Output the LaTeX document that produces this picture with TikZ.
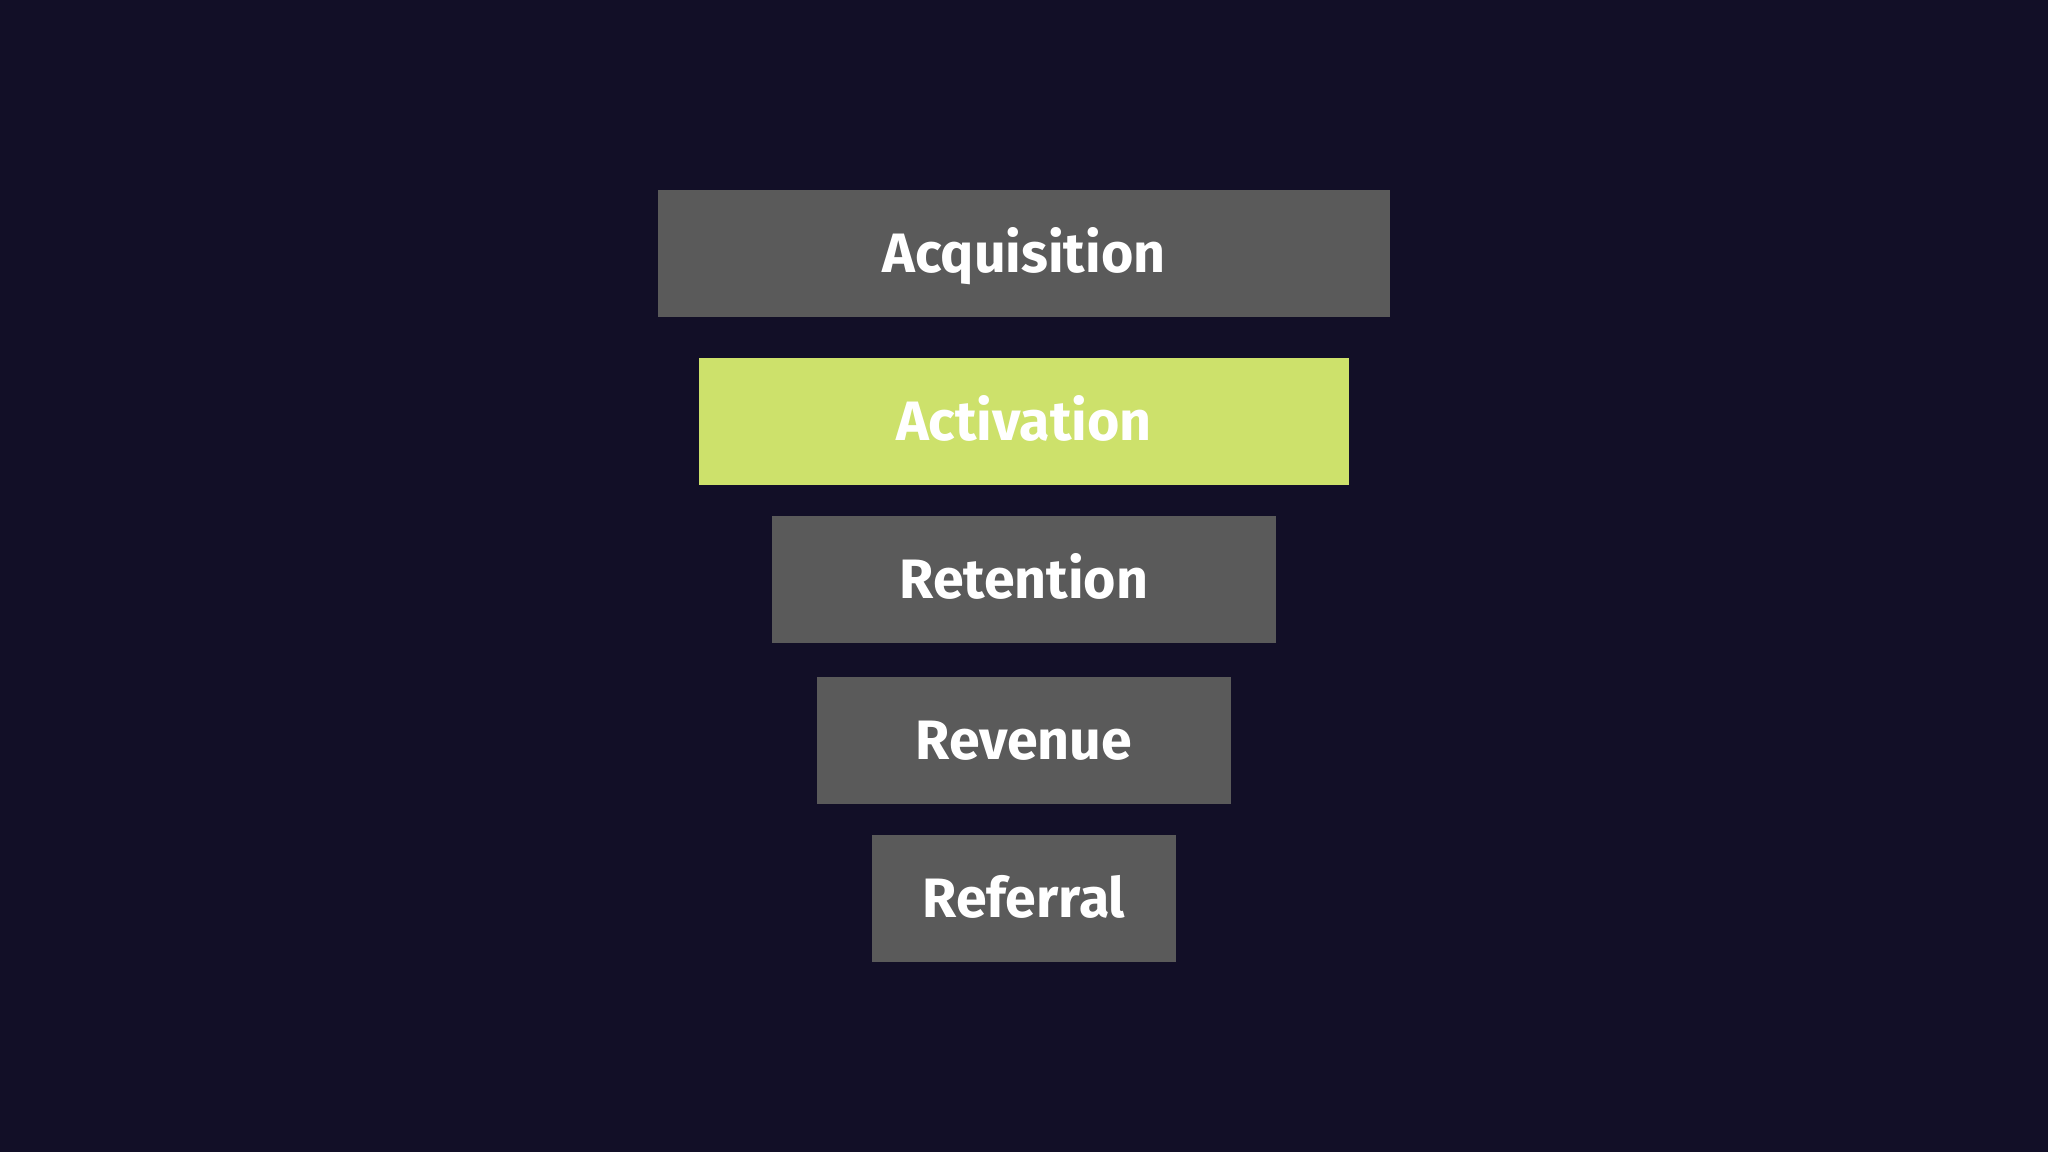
\documentclass[tikz,border=0pt]{standalone}
\usepackage{fontspec}
\setmainfont{Fira Sans}
\definecolor{bg}{HTML}{120F27}
\definecolor{boxgray}{HTML}{5A5A5A}
\definecolor{boxgreen}{HTML}{CDE16B}
\begin{document}
\begin{tikzpicture}[x=1pt,y=-1pt,
  stage/.style={fill=boxgray, draw=none, inner sep=0pt, minimum height=127pt,
    text=white, font=\fontsize{55.5}{60}\selectfont\bfseries, text height=38pt, text depth=0pt},
  hilite/.style={stage, fill=boxgreen}]
\fill[bg] (0,0) rectangle (2048,1152);
\useasboundingbox (0,0) rectangle (2048,1152);
\node[stage, minimum width=732pt] (acq) at (1024,253) {Acquisition};
\node[hilite, minimum width=650pt] (act) at (1024,421) {Activation};
\node[stage, minimum width=504pt] (ret) at (1024,579.5) {Retention};
\node[stage, minimum width=414pt] (rev) at (1024,740) {Revenue};
\node[stage, minimum width=304pt] (ref) at (1024,898) {Referral};
\end{tikzpicture}
\end{document}
